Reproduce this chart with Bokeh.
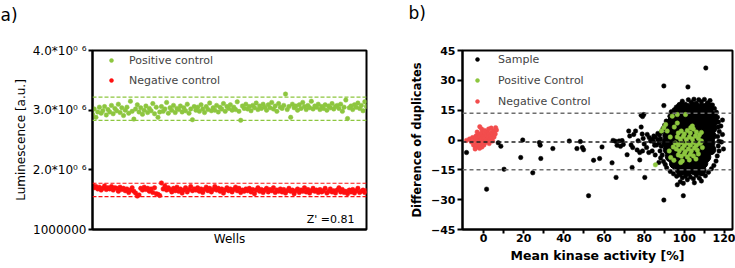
from bokeh.plotting import figure
from bokeh.models import Range1d, FixedTicker, Span, Label, Legend, LegendItem, Title
from bokeh.layouts import row
from bokeh.embed import file_html
from bokeh.resources import INLINE

# ---------------- Panel a data (luminescence, in units of 10^6) ----------------
wells = list(range(1, 161))
positive_control = [
    2.93, 3.02, 2.88, 2.97, 3.05, 2.95, 2.99, 3.06, 2.92, 3.01,
    2.97, 3.08, 2.94, 3.03, 2.99, 3.10, 2.96, 3.04, 2.91, 3.00,
    3.05, 2.95, 3.15, 2.98, 2.85, 3.02, 3.09, 2.97, 3.04, 2.93,
    3.00, 3.07, 2.96, 3.03, 2.99, 3.11, 2.94, 3.05, 2.88, 2.97,
    3.06, 2.98, 3.02, 3.13, 2.95, 3.04, 3.00, 3.08, 2.96, 3.03,
    3.01, 3.07, 2.97, 3.04, 2.99, 3.10, 2.95, 3.02, 2.84, 3.06,
    3.00, 3.05, 2.98, 3.09, 3.02, 2.96, 3.06, 3.01, 3.12, 2.99,
    3.04, 3.00, 3.08, 2.97, 3.05, 3.02, 3.11, 2.98, 3.06, 3.03,
    3.09, 3.00, 3.05, 3.01, 3.14, 2.98, 2.83, 3.07, 3.03, 3.10,
    3.02, 3.06, 2.99, 3.08, 3.04, 3.12, 3.01, 3.07, 3.03, 3.10,
    3.05, 3.00, 3.09, 3.04, 3.13, 3.02, 3.07, 2.98, 3.11, 3.05,
    3.03, 3.08, 3.27, 3.01, 3.06, 2.88, 3.10, 3.04, 3.07, 3.00,
    3.09, 3.03, 3.13, 3.06, 3.01, 3.08, 3.04, 3.15, 3.02, 3.07,
    3.05, 3.10, 3.01, 3.06, 3.03, 3.09, 3.00, 3.07, 3.04, 3.11,
    3.02, 3.06, 3.08, 3.03, 3.10, 2.98, 3.05, 3.17, 2.86, 3.04,
    3.07, 3.01, 3.09, 3.05, 3.12, 3.03, 3.08, 2.99, 3.14, 3.06,
]
negative_control = [
    1.75, 1.70, 1.72, 1.68, 1.71, 1.66, 1.69, 1.73, 1.67, 1.70,
    1.68, 1.72, 1.66, 1.70, 1.69, 1.64, 1.71, 1.67, 1.69, 1.65,
    1.68, 1.62, 1.66, 1.70, 1.64, 1.61, 1.56, 1.58, 1.69, 1.66,
    1.71, 1.67, 1.69, 1.64, 1.68, 1.62, 1.70, 1.60, 1.59, 1.57,
    1.78, 1.68, 1.73, 1.66, 1.70, 1.67, 1.63, 1.69, 1.65, 1.71,
    1.64, 1.68, 1.61, 1.66, 1.70, 1.63, 1.67, 1.72, 1.65, 1.68,
    1.66, 1.70, 1.64, 1.68, 1.62, 1.67, 1.71, 1.65, 1.69, 1.63,
    1.67, 1.72, 1.66, 1.69, 1.64, 1.68, 1.61, 1.66, 1.70, 1.65,
    1.68, 1.63, 1.67, 1.71, 1.65, 1.69, 1.62, 1.66, 1.64, 1.68,
    1.65, 1.69, 1.63, 1.67, 1.60, 1.66, 1.70, 1.64, 1.67, 1.62,
    1.66, 1.69, 1.63, 1.67, 1.65, 1.70, 1.62, 1.66, 1.64, 1.68,
    1.63, 1.67, 1.61, 1.65, 1.69, 1.64, 1.66, 1.60, 1.65, 1.68,
    1.62, 1.66, 1.64, 1.70, 1.63, 1.67, 1.61, 1.65, 1.69, 1.64,
    1.66, 1.62, 1.67, 1.63, 1.65, 1.69, 1.61, 1.64, 1.68, 1.63,
    1.65, 1.61, 1.66, 1.70, 1.63, 1.67, 1.62, 1.64, 1.60, 1.66,
    1.63, 1.67, 1.61, 1.65, 1.69, 1.62, 1.64, 1.66, 1.62, 1.65,
]
positive_limits = [2.83, 3.22]
negative_limits = [1.55, 1.775]
z_prime = 0.81
lum_ticks = [1000000, 2000000, 3000000, 4000000]
lum_tick_labels = ["1000000", "2.0*10\u2070 \u2076", "3.0*10\u2070 \u2076", "4.0*10\u2070 \u2076"]

# ---------------- Panel b data (mean activity %, difference of duplicates) ----------------
sample_core = [
    (98.3, 16.2), (101.6, 15.7), (105.2, 16.4), (108.7, 15.9), (111.8, 16.3),
    (95.4, 12.8), (99.1, 12.2), (102.7, 12.9), (106.2, 12.3), (109.6, 12.8), (113.1, 12.4),
    (94.2, 9.3), (97.6, 8.8), (101.2, 9.4), (104.6, 8.7), (108.1, 9.2), (111.7, 8.9), (114.3, 9.5),
    (92.6, 5.8), (96.1, 5.3), (99.6, 5.9), (103.1, 5.2), (106.7, 5.7), (110.2, 5.4), (113.6, 5.9),
    (91.9, 2.2), (95.6, 1.7), (99.2, 2.3), (102.6, 1.8), (106.1, 2.4), (109.7, 1.9), (113.2, 2.1),
    (91.4, -1.3), (95.1, -1.8), (98.6, -1.2), (102.2, -1.7), (105.6, -1.1), (109.2, -1.6), (112.7, -1.4),
    (92.1, -4.8), (95.7, -5.3), (99.1, -4.7), (102.6, -5.2), (106.2, -4.9), (109.6, -5.3), (113.1, -4.8),
    (93.1, -8.3), (96.6, -8.8), (100.2, -8.4), (103.6, -8.7), (107.1, -8.2), (110.6, -8.6),
    (95.2, -11.8), (98.6, -12.3), (102.1, -11.9), (105.6, -12.2), (109.1, -11.7),
    (98.2, -15.1), (101.6, -15.4), (105.1, -14.9), (108.2, -15.2),
]
sample_points = [
    (-8.5, -6.3), (1.5, -24.7), (7.3, -1.4), (8.6, -3.1), (10.2, -14.7), (18.5, -8.8), (19.5, 0.0),
    (24.5, -16.5), (27.8, -1.3), (28.2, -2.6), (28.5, -9.3), (34.5, -4.3), (42.7, -0.5), (46.5, -4.3),
    (48.2, -0.8), (49.2, -3.8), (49.8, -4.9), (52.3, -28.0), (54.8, -10.2), (57.8, -9.3), (59.0, -3.5),
    (64.0, -11.5), (64.5, -0.2), (65.6, -0.6), (66.0, -18.8), (66.5, -2.7), (67.5, -0.5), (68.2, -3.2),
    (69.0, -0.3), (69.6, -2.2), (71.5, -7.4), (72.3, 4.5), (72.8, 2.0), (73.5, -2.5), (74.0, -13.8),
    (74.3, -3.8), (74.8, 2.8), (75.7, 4.5), (76.5, -5.0), (77.0, -0.4), (77.8, -10.0), (77.8, -6.3),
    (78.5, 12.5), (79.2, 11.8), (79.8, 12.8), (78.5, 6.5), (79.0, 3.0), (79.5, 0.8), (79.2, -5.5),
    (80.3, -18.8), (80.0, -2.0), (81.5, 2.8), (81.2, -3.8), (82.3, -6.3), (82.5, 1.2), (83.2, -0.5),
    (84.0, 0.4), (84.0, -5.5), (84.6, -0.8), (84.8, 2.0), (85.2, -2.6), (85.5, 1.5), (85.5, -7.5),
    (86.2, -2.5), (86.8, 0.2), (86.8, 3.3), (87.3, -11.3), (87.5, -1.5), (87.6, 2.5),
    (88.5, 3.9), (88.2, 0.5), (88.5, -3.2), (87.9, -5.5), (89.0, -7.6), (88.2, -9.0), (89.6, -10.8),
    (90.5, -12.3), (91.2, -14.0), (89.4, 5.8), (90.2, 7.5), (91.0, 9.5), (92.8, 12.0), (93.5, 14.2),
    (95.0, 15.2), (96.0, 16.5), (97.5, 17.8), (99.0, 19.5), (100.5, 18.0), (102.0, 20.2), (103.5, 19.0),
    (104.8, 20.5), (106.0, 18.5), (107.2, 20.3), (108.5, 19.2), (110.0, 20.4), (111.5, 18.6),
    (112.8, 19.8), (114.0, 17.6), (113.5, 16.0), (115.0, 15.8), (116.0, 13.9), (115.3, 12.8),
    (116.5, 11.5), (117.0, 9.0), (116.8, 6.5), (117.4, 4.3), (116.6, 1.8), (117.2, -0.6), (116.9, -3.0),
    (117.3, -5.5), (116.4, -8.0), (115.8, -10.6), (114.7, -12.8), (113.5, -14.5), (112.0, -16.2),
    (110.5, -18.0), (109.0, -17.0), (107.5, -19.2), (106.0, -17.8), (104.5, -19.5), (103.0, -18.6),
    (101.5, -20.0), (100.5, -18.2), (99.0, -19.0), (97.8, -17.5), (96.2, -18.2), (94.6, -17.0),
    (93.0, -15.8), (96.5, -22.5), (98.0, -21.0), (99.5, -21.8), (105.0, -21.5), (108.5, -20.6),
    (89.8, 27.2), (101.8, 26.7), (110.7, 36.2), (89.8, -30.2), (99.5, -28.0), (119.0, 10.0),
    (119.0, 2.8), (118.5, -1.0), (119.5, -4.5), (118.2, 7.0), (89.8, 17.3),
]
positive_points = [
    (97.0, 3.5), (98.5, 4.5), (100.0, 3.0), (101.5, 4.8), (103.0, 3.5), (104.5, 5.5), (106.0, 4.0), (107.5, 2.5),
    (96.5, 1.5), (98.0, 0.5), (99.5, 1.8), (101.0, 0.2), (102.5, 1.5), (104.0, 0.5), (105.5, 2.0), (107.0, 0.8),
    (108.5, -0.5), (95.5, -1.5), (97.0, -2.5), (98.5, -1.2), (100.0, -2.8), (101.5, -1.5), (103.0, -2.6),
    (104.5, -1.2), (106.0, -2.8), (107.5, -1.8), (96.0, -4.5), (97.5, -5.5), (99.0, -4.2), (100.5, -5.8),
    (102.0, -4.5), (103.5, -5.5), (105.0, -4.0), (106.5, -5.2), (97.0, -7.5), (98.5, -8.2), (100.0, -7.0),
    (101.5, -8.5), (103.0, -7.2), (104.5, -8.0), (99.0, -10.5), (102.5, -10.0), (105.8, -9.6),
    (90.7, 7.8), (88.6, 4.5), (91.5, 4.5), (89.8, 6.2), (94.0, 12.0), (96.5, 12.8), (100.6, 12.8),
    (85.6, -12.5), (93.2, -8.8), (94.8, -10.2), (98.2, -11.3), (108.2, -1.3), (109.0, -3.8),
    (103.2, 6.2), (104.0, 7.0), (93.0, 1.5), (94.5, -3.5), (92.5, -5.5), (95.0, 6.5), (96.5, 8.5),
    (108.5, 3.8), (107.0, -7.0),
]
negative_points = [
    (-8.5, -0.2), (-7.0, 0.5), (-6.0, -1.0), (-5.5, 1.2), (-5.0, -2.5), (-4.5, 0.0), (-4.0, -3.8),
    (-3.8, 2.0), (-3.5, -1.5), (-3.0, 0.8), (-2.8, -3.0), (-2.5, 3.0), (-2.2, -0.5), (-2.0, 1.8),
    (-1.9, 6.7), (-1.5, -2.0), (-1.2, 0.5), (-1.0, 3.5), (-0.8, -3.5), (-0.5, -1.0), (-0.3, 2.0),
    (0.0, 0.0), (0.2, -2.5), (0.5, 1.0), (0.8, 3.0), (1.0, -1.2), (1.3, 0.2), (1.5, 2.2), (1.8, 4.0),
    (2.0, -0.5), (2.3, 1.2), (2.6, 3.0), (2.8, -1.8), (3.2, 0.5), (3.5, 2.0), (3.8, 3.8), (4.0, 1.0),
    (4.5, -0.5), (4.6, 2.6), (5.0, 4.5), (5.2, 1.5), (5.8, 3.0), (6.0, 6.2), (6.4, 5.0), (-1.0, 5.5),
    (-3.2, 4.0), (0.5, 4.8), (2.5, 5.5), (-4.2, -4.5), (-2.0, -4.2), (3.8, 6.0),
]
diff_limits = [-15.0, -1.0, 13.5]
act_ticks = [0, 20, 40, 60, 80, 100, 120]
act_minor_ticks = [10, 30, 50, 70, 90, 110]
diff_ticks = [-45, -30, -15, 0, 15, 30, 45]

GREEN = "#8DC63F"
RED_A = "#FF1010"
RED_B = "#F24D4D"
FONT_A = "DejaVu Sans"


def style_axes(p, font, tick_size, label_size, bold):
    for ax in (p.xaxis[0], p.yaxis[0]):
        ax.axis_line_width = 2
        ax.axis_line_color = "black"
        ax.major_tick_line_width = 2
        ax.minor_tick_line_width = 2
        ax.major_tick_in = 0
        ax.minor_tick_in = 0
        ax.major_tick_out = 5
        ax.minor_tick_out = 4
        ax.major_label_text_font = font
        ax.major_label_text_font_size = tick_size
        ax.major_label_text_font_style = "bold" if bold else "normal"
        ax.major_label_text_color = "black"
        ax.axis_label_text_font = font
        ax.axis_label_text_font_size = label_size
        ax.axis_label_text_font_style = "bold" if bold else "normal"
        ax.axis_label_text_color = "black"
    p.xgrid.visible = False
    p.ygrid.visible = False
    p.outline_line_color = "black"
    p.outline_line_width = 2
    p.outline_line_alpha = 1


# ---------------- Panel a ----------------
pa = figure(width=370, height=268, title=None, output_backend="svg", toolbar_location=None,
            x_range=Range1d(1, 160), y_range=Range1d(1e6, 4e6),
            min_border_left=92, min_border_right=4, min_border_top=46, min_border_bottom=39)
style_axes(pa, FONT_A, "12px", "12px", False)
pa.xaxis.ticker = FixedTicker(ticks=[])
pa.xaxis.axis_label = "Wells"
pa.xaxis.axis_label_standoff = 2
pa.yaxis.ticker = FixedTicker(ticks=lum_ticks, minor_ticks=[])
pa.yaxis.major_label_overrides = dict(zip(lum_ticks, lum_tick_labels))
pa.yaxis.major_tick_out = 4
pa.yaxis.major_label_standoff = 2
pa.yaxis.axis_label = "Luminescence [a.u.]"
pa.yaxis.axis_label_standoff = 2

for v in positive_limits:
    pa.add_layout(Span(location=v * 1e6, dimension="width", line_color=GREEN,
                       line_dash="4 2", line_width=1.2))
for v in negative_limits:
    pa.add_layout(Span(location=v * 1e6, dimension="width", line_color=RED_A,
                       line_dash="4 2", line_width=1.2))

r_pos_a = pa.scatter(wells, [v * 1e6 for v in positive_control], size=4.5,
                     fill_color=GREEN, line_color=GREEN, line_width=0.5)
r_neg_a = pa.scatter(wells, [v * 1e6 for v in negative_control], size=4.5,
                     fill_color=RED_A, line_color=RED_A, line_width=0.5)

leg_a = Legend(items=[LegendItem(label="Positive control", renderers=[r_pos_a]),
                      LegendItem(label="Negative control", renderers=[r_neg_a])],
               location=(14, 139), glyph_width=10, glyph_height=10, label_height=20,
               spacing=0, padding=0, margin=0, label_standoff=13,
               label_text_font=FONT_A, label_text_font_size="11px",
               border_line_color=None, background_fill_alpha=0)
pa.add_layout(leg_a)

pa.add_layout(Label(x=262, y=10, x_units="screen", y_units="screen",
                    text=f"Z' ={z_prime:.2f}", text_align="right", text_baseline="alphabetic",
                    text_font=FONT_A, text_font_size="11px", text_color="black"))
# panel letter: a two-line title box lifts the letter to the top of the canvas
pa.add_layout(Title(text="a)\n", align="left", offset=-92, standoff=4, vertical_align="top",
                    text_line_height=1.1,
                    text_font=FONT_A, text_font_size="17px", text_font_style="normal",
                    text_color="black"), "above")

# ---------------- Panel b ----------------
pb = figure(width=365, height=268, title=None, output_backend="svg", toolbar_location=None,
            x_range=Range1d(-10.5, 124), y_range=Range1d(-45, 45),
            min_border_left=92, min_border_right=3, min_border_top=49, min_border_bottom=39)
style_axes(pb, FONT_A, "11px", "12px", True)
pb.xaxis.ticker = FixedTicker(ticks=act_ticks, minor_ticks=act_minor_ticks)
pb.xaxis.major_tick_out = 4
pb.xaxis.minor_tick_out = 4
pb.xaxis.major_label_standoff = 0
pb.yaxis.ticker = FixedTicker(ticks=diff_ticks, minor_ticks=[])
pb.yaxis.major_label_standoff = 2
pb.yaxis.axis_label = "Difference of duplicates"
pb.yaxis.axis_label_text_font_size = "11.5px"
pb.yaxis.axis_label_standoff = 4

for v, c in zip(diff_limits, ["#6E6E6E", "#222222", "#6E6E6E"]):
    pb.add_layout(Span(location=v, dimension="width", line_color=c,
                       line_dash="4 3", line_width=1.5))

pb.scatter([p[0] for p in sample_core], [p[1] for p in sample_core], size=10.5,
           fill_color="black", line_color="black")
r_sample = pb.scatter([p[0] for p in sample_points], [p[1] for p in sample_points], size=4.5,
                      fill_color="black", line_color="black", line_width=0.5)
r_pos_b = pb.scatter([p[0] for p in positive_points], [p[1] for p in positive_points], size=4.5,
                     fill_color=GREEN, line_color=GREEN, line_width=0.5)
r_neg_b = pb.scatter([p[0] for p in negative_points], [p[1] for p in negative_points], size=4.5,
                     fill_color=RED_B, line_color=RED_B, line_width=0.5)

leg_b = Legend(items=[LegendItem(label="Sample", renderers=[r_sample]),
                      LegendItem(label="Positive Control", renderers=[r_pos_b]),
                      LegendItem(label="Negative Control", renderers=[r_neg_b])],
               location=(10, 118), glyph_width=10, glyph_height=10, label_height=20,
               spacing=1, padding=0, margin=0, label_standoff=16,
               label_text_font=FONT_A, label_text_font_size="11px",
               border_line_color=None, background_fill_alpha=0)
pb.add_layout(leg_b)

# x-axis title placed below the axis, shifted left as in the original figure
pb.add_layout(Title(text="Mean kinase activity [%]", align="center", offset=-15, standoff=2,
                    text_font=FONT_A, text_font_size="12.5px", text_font_style="bold",
                    text_color="black"), "below")
pb.add_layout(Title(text="b)\n", align="left", offset=-54, standoff=4, vertical_align="top",
                    text_line_height=1.2,
                    text_font=FONT_A, text_font_size="17px", text_font_style="normal",
                    text_color="black"), "above")

layout = row(pa, pb)
open("out.html", "w").write(file_html(layout, INLINE))
